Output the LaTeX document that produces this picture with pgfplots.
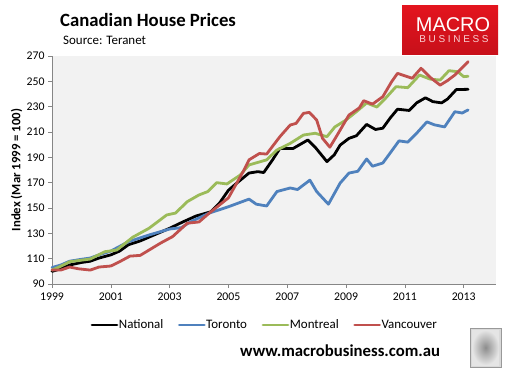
\documentclass[border=0pt]{standalone}
\usepackage{fontspec}
\setmainfont{Carlito}
\newfontfamily\logofont{Liberation Sans}
\newfontfamily\logofontsp[LetterSpace=27]{Liberation Sans}
\usepackage{pgfplots}
\pgfplotsset{compat=1.18}
\definecolor{ctor}{HTML}{4F81BD}
\definecolor{cmon}{HTML}{9BBB59}
\definecolor{cvan}{HTML}{C0504D}
\definecolor{plotbg}{HTML}{F2F2F2}
\definecolor{axgray}{HTML}{868686}
\definecolor{logored}{HTML}{E3141E}
\definecolor{logodark}{HTML}{C8101A}

\begin{document}
\begin{tikzpicture}[x=1bp,y=1bp]
\path[use as bounding box] (0,0) rectangle (510,368);
\begin{axis}[
  at={(52bp,84bp)}, anchor=south west, scale only axis,
  width=444bp, height=228bp,
  xmin=1999, xmax=2014.1, ymin=90, ymax=270,
  xtick={1999,2001,...,2013}, ytick={90,110,...,270},
  axis x line=bottom, axis y line=left,
  axis line style={-, draw=axgray, line width=0.6bp},
  axis background/.style={fill=plotbg},
  tick align=outside, major tick length=4bp,
  tick style={draw=axgray, line width=0.6bp},
  /pgf/number format/1000 sep={},
  /pgf/number format/assume math mode=true,
  ticklabel style={font=\fontsize{11.8}{13}\selectfont},
  xticklabel style={yshift=-1bp},
  legend style={at={(0.4775,-0.18)}, anchor=center, draw=none, fill=none,
    legend columns=4, font=\fontsize{13}{15}\selectfont,
    nodes={inner xsep=0.5bp, inner ysep=1bp},
    /tikz/every even column/.append style={column sep=14bp},
    inner sep=0pt, legend cell align=left},
  legend image code/.code={\draw[#1, line width=2.8bp] (0bp,0bp) -- (25bp,0bp);},
  every axis plot/.append style={line width=2.8bp, line join=round, line cap=round},
  clip=false,
]
\addplot[black] coordinates {
(1999.0,100) (1999.3,102) (1999.6,105) (2000.0,107) (2000.3,108) (2000.6,110.5)
(2001.0,113) (2001.3,116) (2001.6,121) (2002.0,124) (2002.3,127) (2002.7,131)
(2003.0,134) (2003.45,139) (2003.9,143.7) (2004.4,147) (2004.7,154) (2005.0,164)
(2005.3,170) (2005.7,177.6) (2006.0,178.7) (2006.2,178) (2006.5,188) (2006.75,197)
(2007.2,197) (2007.7,203.7) (2007.95,198) (2008.35,186.6) (2008.6,192) (2008.8,199.7)
(2009.1,205) (2009.35,207) (2009.7,216) (2010.0,212) (2010.25,213) (2010.5,221)
(2010.75,228) (2011.15,227) (2011.4,233) (2011.7,237) (2011.95,234) (2012.25,233)
(2012.45,236) (2012.75,243.5) (2013.15,243.7)
};
\addlegendentry{National}
\addplot[ctor] coordinates {
(1999.0,103) (1999.3,105) (1999.6,108) (2000.0,109.5) (2000.3,110.5) (2000.6,113)
(2001.0,116) (2001.6,123.4) (2002.3,128.7) (2003.0,133.4) (2003.4,134.5) (2003.7,139)
(2004.35,146) (2005.0,151) (2005.7,157) (2005.95,153) (2006.3,151.6) (2006.65,163)
(2007.1,165.8) (2007.35,164.6) (2007.77,172) (2008.0,163) (2008.4,153) (2008.8,169.7)
(2009.1,177.6) (2009.4,179) (2009.7,188.7) (2009.9,183) (2010.25,185.5) (2010.5,193.4)
(2010.8,203) (2011.1,202) (2011.4,209) (2011.75,218) (2012.0,215.7) (2012.35,214)
(2012.7,226) (2012.95,225) (2013.15,227.4)
};
\addlegendentry{Toronto}
\addplot[cmon] coordinates {
(1999.0,101) (1999.3,104) (1999.6,107.6) (2000.3,109.7) (2000.8,115.5) (2001.2,116.8)
(2001.75,127) (2002.3,134) (2002.9,144.5) (2003.2,146) (2003.6,155) (2004.0,160.3)
(2004.3,163) (2004.6,170) (2004.95,169) (2005.4,176) (2005.7,184) (2006.3,188)
(2006.65,195.8) (2007.1,201) (2007.55,207.6) (2007.95,209) (2008.35,206.3) (2008.62,214)
(2009.0,219.5) (2009.35,226) (2009.7,232.9) (2010.05,229.7) (2010.35,236.8) (2010.7,245.8)
(2011.1,245) (2011.5,255) (2011.85,251.8) (2012.2,251) (2012.5,258.4) (2012.8,257.6)
(2013.0,253.7) (2013.15,254)
};
\addlegendentry{Montreal}
\addplot[cvan] coordinates {
(1999.0,101) (1999.3,101) (1999.6,103.4) (1999.9,102) (2000.3,101) (2000.6,103.4)
(2001.0,104.2) (2001.3,107.6) (2001.65,112) (2002.0,112.6) (2002.3,116.8) (2002.7,122.4)
(2003.1,127.4) (2003.6,138) (2004.0,139) (2004.35,146) (2005.0,158) (2005.5,178.7)
(2005.7,188) (2006.05,193) (2006.3,192.6) (2006.75,206.3) (2007.1,215.5) (2007.3,216.8)
(2007.55,224.7) (2007.75,225.5) (2008.0,219.5) (2008.2,205) (2008.45,198) (2008.7,207.6)
(2009.0,219.5) (2009.1,223.4) (2009.45,229) (2009.6,234.7) (2009.9,232) (2010.25,237.9)
(2010.55,249.7) (2010.75,256.3) (2011.25,252.4) (2011.55,260.3) (2011.9,252.4) (2012.2,247)
(2012.45,250.6) (2012.7,255) (2013.15,265.5)
};
\addlegendentry{Vancouver}
\end{axis}
% titles
\node[anchor=base west, inner sep=0] at (60,341.3) {\fontsize{18.8}{21}\selectfont\bfseries Canadian House Prices};
\node[anchor=base west, inner sep=0] at (63,324) {\fontsize{13}{15}\selectfont Source: Teranet};
\node[rotate=90, inner sep=0] at (16.5,198) {\fontsize{12.8}{15}\selectfont\bfseries Index (Mar 1999 = 100)};
\node[anchor=base west, inner sep=0] at (240,12) {\fontsize{16.8}{19}\selectfont\bfseries www.macrobusiness.com.au};
% logo
\shade[top color=logored, bottom color=logodark] (402,314) rectangle (498,362);
\node[anchor=base, inner sep=0, text=white] at (453,336.3) {\logofont\fontsize{20}{22}\selectfont MACRO};
\node[anchor=base, inner sep=0, text=white!80!logored] at (454,325.3) {\logofontsp\fontsize{10}{12}\selectfont BUSINESS};
% wolf picture placeholder
\fill[white!85!black] (470,1) rectangle (501,40);
\shade[inner color=white!55!black, outer color=white!90!black] (472,3) rectangle (499,38);
\draw[white!60!black, line width=0.8bp] (470,1) rectangle (501,40);
\end{tikzpicture}
\end{document}
